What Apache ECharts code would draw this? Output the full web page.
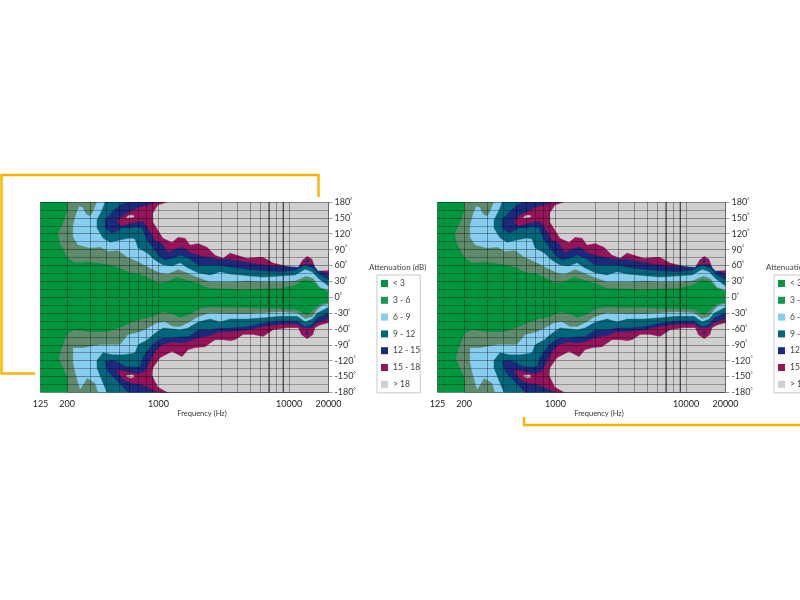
<!DOCTYPE html>
<html>
<head>
<meta charset="utf-8">
<style>html,body{margin:0;padding:0;background:#fff}#c{width:800px;height:600px}</style>
<script src="https://cdn.jsdelivr.net/npm/echarts@6/dist/echarts.min.js"></script>
</head>
<body>
<div id="c"></div>
<script>
// Contours of the attenuation map: [frequency in Hz, angle in degrees]
const plotArea = [[125,-180],[20000,-180],[20000,180],[125,180]];
const top3 = [[202,180],[202,165],[186,140],[170,121],[176,102],[202,74],[230,65],[284,67],[338,65],[426,61],[508,55],[606,46],[722,44],[862,36],[992,27],[1163,29],[1387,38],[1654,33],[1975,27],[2482,17],[3532,16],[4767,14],[6320,16],[8527,17],[11110,23],[13253,34],[15260,29],[17265,17],[20000,10],[20000,180]];
const bot3 = [[202,-180],[202,-153],[186,-134],[173,-115],[182,-96],[202,-68],[230,-62],[299,-66],[404,-66],[526,-56],[639,-47],[761,-41],[909,-37],[1084,-28],[1293,-32],[1462,-39],[1684,-34],[2081,-22],[2482,-19],[3532,-20],[4767,-20],[6320,-22],[8527,-22],[11510,-24],[13730,-34],[15260,-24],[17265,-13],[20000,-11],[20000,-180]];
const top6 = [[338,180],[315,161],[299,153],[279,157],[264,169],[247,172],[234,157],[222,136],[222,114],[242,99],[299,93],[357,95],[411,87],[490,89],[575,76],[606,74],[722,65],[862,55],[1028,46],[1183,44],[1412,53],[1654,46],[1975,38],[2482,29],[2860,29],[3532,29],[4767,31],[6320,29],[8527,29],[11110,31],[13490,40],[15260,36],[17265,19],[20000,14],[20000,180]];
const bot6 = [[345,-180],[327,-162],[284,-153],[264,-166],[251,-174],[230,-141],[222,-122],[222,-96],[264,-96],[357,-90],[508,-90],[585,-71],[722,-66],[832,-58],[975,-49],[1122,-47],[1293,-56],[1462,-56],[1684,-49],[2010,-37],[2482,-30],[3532,-32],[4767,-32],[6320,-30],[8527,-28],[11510,-30],[13253,-41],[15000,-37],[16376,-24],[17880,-15],[20000,-13],[20000,-180]];
const top9 = [[390,180],[370,165],[338,146],[338,131],[376,112],[426,104],[508,108],[606,112],[661,110],[697,93],[817,84],[941,70],[1084,61],[1270,59],[1462,65],[1684,55],[2010,46],[2482,42],[2961,48],[3532,44],[5025,40],[6320,38],[8527,40],[11110,42],[13253,53],[15000,48],[16670,36],[20000,21],[20000,180]];
const bot9 = [[404,-180],[376,-162],[338,-134],[338,-119],[376,-105],[449,-109],[536,-109],[606,-107],[661,-105],[697,-90],[817,-81],[941,-68],[1084,-58],[1293,-60],[1462,-62],[1684,-58],[2010,-47],[2482,-41],[2961,-47],[3532,-41],[4767,-41],[6320,-39],[8527,-36],[11510,-36],[13253,-47],[15000,-41],[16376,-30],[20000,-19],[20000,-180]];
const top12 = [[575,180],[508,174],[441,161],[390,146],[390,131],[441,121],[526,131],[606,131],[661,133],[748,131],[817,108],[909,93],[992,80],[1122,70],[1293,74],[1462,80],[1684,74],[2010,61],[2397,61],[2961,61],[3532,57],[4601,53],[6320,50],[8527,48],[11110,51],[13253,61],[15260,55],[17265,42],[20000,33],[20000,180]];
const bot12 = [[585,-180],[490,-160],[411,-141],[390,-122],[449,-119],[575,-132],[722,-132],[761,-113],[832,-100],[941,-85],[1084,-77],[1270,-77],[1462,-75],[1684,-75],[2010,-62],[2482,-62],[2961,-58],[3532,-58],[4767,-56],[6320,-49],[8527,-45],[11510,-45],[13253,-56],[15000,-51],[16376,-39],[20000,-30],[20000,-180]];
const top15 = [[992,180],[832,174],[697,169],[606,161],[526,153],[481,142],[526,135],[606,140],[685,142],[761,144],[832,131],[941,108],[1065,102],[1183,85],[1387,93],[1542,95],[1745,85],[2010,80],[2397,76],[2860,72],[3532,72],[4601,67],[5686,63],[7808,59],[11110,59],[13253,63],[15000,63],[17265,53],[20000,44],[20000,180]];
const bot15 = [[992,-180],[862,-172],[722,-164],[606,-162],[526,-153],[481,-139],[536,-139],[606,-143],[697,-145],[789,-141],[862,-122],[941,-103],[1065,-90],[1270,-85],[1462,-87],[1654,-85],[2010,-77],[2482,-73],[2961,-66],[3532,-66],[4767,-62],[6320,-56],[8527,-51],[11510,-51],[12570,-58],[15000,-58],[16376,-49],[20000,-41],[20000,-180]];
const top18 = [[1183,180],[992,174],[909,159],[909,142],[992,127],[1084,112],[1270,104],[1412,114],[1597,112],[1745,99],[2010,102],[2355,95],[2711,80],[3122,74],[3532,84],[3996,80],[4767,74],[5686,76],[6320,76],[7539,65],[9650,59],[11710,57],[12570,70],[13730,78],[15000,72],[15808,57],[16670,50],[20000,51],[20000,180]];
const bot18 = [[1183,-180],[992,-170],[893,-147],[909,-134],[1028,-115],[1270,-103],[1515,-113],[1684,-100],[1906,-96],[2273,-94],[2711,-81],[3122,-81],[3532,-83],[3857,-81],[4442,-71],[5300,-71],[6320,-75],[7539,-62],[9650,-58],[11710,-58],[12350,-71],[13730,-79],[15260,-71],[15808,-58],[17265,-53],[20000,-49],[20000,-180]];
const holeTop = [[565,150],[595,155],[639,155],[650,152],[606,150]];
const holeBot = [[565,-149],[595,-147],[639,-147],[650,-151],[606,-153]];
const dotTop = [[13253,68],[13730,72],[14220,68],[13730,65]];
const dotBot = [[13253,-68],[13730,-64],[14220,-68],[13730,-71]];

const levelNames = ['< 3','3 - 6','6 - 9','9 - 12','12 - 15','15 - 18','> 18'];
const gridFreqs = [125,200,300,400,500,600,700,800,900,1000,2000,3000,4000,5000,6000,7000,8000,9000,10000,20000];
const heavyFreqs = [7000,9000];
const labelFreqs = [125,200,1000,10000,20000];

const mapColors = ['#00963f','#5f8a6c','#86cdf0','#00687a','#1b2a7c','#98145a','#cfcfcf'];
const swatchColors = ['#00963f','#149a50','#86cdf0','#00687a','#1b2a7c','#98145a','#cfcfcf'];
const layers = [
  [0,[plotArea]],[1,[top3,bot3]],[2,[top6,bot6]],[3,[top9,bot9]],
  [4,[top12,bot12]],[5,[top15,bot15]],[6,[top18,bot18,holeTop,holeBot]],[4,[dotTop,dotBot]]
];
const font = 'Lato, sans-serif';
const offsets = [0, 397];

const grids = [], xAxes = [], yAxes = [], series = [], legends = [], titles = [];
offsets.forEach((dx, c) => {
  grids.push({left: 40.5 + dx, top: 202, width: 288, height: 190.4});
  xAxes.push({
    type: 'log', logBase: 10, gridIndex: c, min: 125, max: 20000, z: 5,
    name: 'Frequency (Hz)', nameLocation: 'center', nameGap: 16,
    nameTextStyle: {fontFamily: font, fontSize: 7.5, color: '#333', padding: [0, 0, 0, 35]},
    axisLine: {show: false},
    axisTick: {show: true, length: 3, customValues: gridFreqs, lineStyle: {color: '#666', width: 0.7}},
    axisLabel: {show: true, margin: 7, customValues: labelFreqs, fontFamily: font, fontSize: 9, color: '#222',
      formatter: v => String(Math.round(v)), hideOverlap: false, showMinLabel: true, showMaxLabel: true},
    splitLine: {show: true, lineStyle: {color: 'rgba(0,0,0,0.42)', width: 0.8}},
    minorSplitLine: {show: false}
  });
  yAxes.push({
    type: 'value', gridIndex: c, position: 'right', min: -180, max: 180, interval: 30, z: 5,
    axisLine: {show: false},
    axisTick: {show: true, length: 4, lineStyle: {color: '#777', width: 0.7}},
    minorTick: {show: false, splitNumber: 2},
    axisLabel: {margin: 6, fontFamily: font, fontSize: 9, color: '#333', formatter: v => v + '{d|°}',
      rich: {d: {fontFamily: font, fontSize: 5, color: '#333', verticalAlign: 'top', padding: [0, 0, 3, 0]}}},
    splitLine: {show: true, lineStyle: {color: 'rgba(0,0,0,0.45)', width: 0.8}},
    minorSplitLine: {show: true, lineStyle: {color: 'rgba(0,0,0,0.42)', width: 0.7}}
  });
  layers.forEach(([lvl, polys]) => {
    series.push({
      type: 'custom', name: levelNames[lvl], xAxisIndex: c, yAxisIndex: c, silent: true, clip: true,
      itemStyle: {color: mapColors[lvl]},
      data: polys.map(p => p[0]),
      renderItem: (params, api) => ({
        type: 'polygon',
        shape: {points: polys[params.dataIndex].map(p => api.coord(p))},
        style: {fill: mapColors[lvl], stroke: mapColors[lvl], lineWidth: 0.3}
      })
    });
  });
  series.push({
    type: 'custom', xAxisIndex: c, yAxisIndex: c, silent: true, z: 8,
    data: heavyFreqs.map(f => [f, 0]),
    renderItem: (params, api) => {
      const f = heavyFreqs[params.dataIndex];
      const a = api.coord([f, 180]), b = api.coord([f, -180]);
      return {type: 'line', shape: {x1: a[0], y1: a[1], x2: b[0], y2: b[1]}, style: {stroke: 'rgba(0,0,0,0.6)', lineWidth: 1.1}};
    }
  });
  legends.push({
    orient: 'vertical', left: 377 + dx, top: 275, padding: [4, 0, 4, 4],
    itemWidth: 7, itemHeight: 7, itemGap: 7.8, icon: 'rect', selectedMode: false,
    borderColor: '#bbb', borderWidth: 0.8,
    textStyle: {fontFamily: font, fontSize: 8.5, color: '#444'},
    data: levelNames.map((n, i) => ({name: n, itemStyle: {color: swatchColors[i]}}))
  });
  titles.push({text: 'Attenuation (dB)', left: 369 + dx, top: 263,
    textStyle: {fontFamily: font, fontSize: 8, fontWeight: 'normal', color: '#444'}, padding: 0});
});

const bracket = {color: '#f7b500', width: 2.4};
const chart = echarts.init(document.getElementById('c'), null, {renderer: 'canvas'});
chart.setOption({
  animation: false, backgroundColor: '#fff',
  title: titles, grid: grids, xAxis: xAxes, yAxis: yAxes, legend: legends, series,
  graphic: [
    {type: 'polyline', z: 20, silent: true, shape: {points: [[35, 373.5],[1.5, 373.5],[1.5, 175],[318.5, 175],[318.5, 197]]}, style: {stroke: bracket.color, lineWidth: bracket.width, fill: null}},
    {type: 'polyline', z: 20, silent: true, shape: {points: [[524, 417],[524, 425],[800, 425]]}, style: {stroke: bracket.color, lineWidth: bracket.width, fill: null}}
  ]
});
</script>
</body>
</html>
